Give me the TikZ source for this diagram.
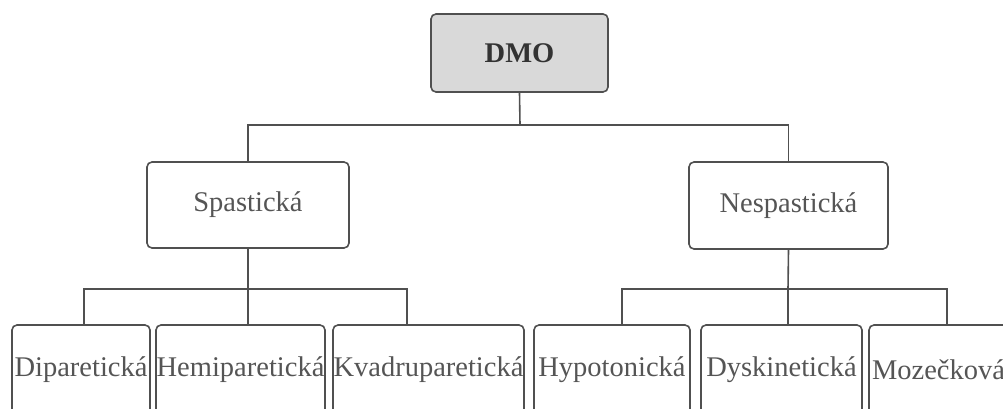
\documentclass[tikz,border=0pt]{standalone}
\usepackage{fontspec}
\setmainfont{Liberation Serif}
\definecolor{lc}{HTML}{505050}
\definecolor{tc}{HTML}{555555}
\definecolor{gfill}{HTML}{D9D9D9}
\begin{document}
\begin{tikzpicture}[x=1pt,y=-1pt,
  box/.style={draw=lc,line width=1.6pt,rounded corners=5pt,fill=white,inner sep=0pt,
    font=\fontsize{28.5}{31}\selectfont,text=tc},
  conn/.style={draw=lc,line width=1.6pt}]
\useasboundingbox (0,0) rectangle (1003,409);
\clip (0,0) rectangle (1003,409);
\fill[white] (0,0) rectangle (1003,409);
\node[box,fill=gfill,minimum width=177pt,minimum height=78pt,font=\fontsize{28.5}{31}\selectfont\bfseries,text=black!80] (dmo) at (519.5,53) {DMO};
\node[box,minimum width=202pt,minimum height=86pt] (sp) at (248,205) {Spastická};
\node[box,minimum width=199pt,minimum height=87pt] (nsp) at (788.5,205.5) {Nespastická};
\node[box,minimum width=138pt,minimum height=90pt] (dip) at (81,370) {Diparetická};
\node[box,minimum width=169pt,minimum height=90pt] (hem) at (240.5,370) {Hemiparetická};
\node[box,minimum width=191pt,minimum height=90pt] (kva) at (428.5,370) {Kvadruparetická};
\node[box,minimum width=156pt,minimum height=90pt] (hyp) at (612,370) {Hypotonická};
\node[box,minimum width=161pt,minimum height=90pt] (dys) at (781.5,370) {Dyskinetická};
\node[box,minimum width=139pt,minimum height=90pt] (moz) at (938.5,370) {Mozečková};
\coordinate (j0) at (520,125);
\coordinate (s1) at (248,289);
\coordinate (n1) at (788,289);
\draw[conn] (dmo.south) -- (j0);
\draw[conn] (sp.north) |- (j0) -| (nsp.north);
\draw[conn] (sp.south) -- (s1);
\draw[conn] (dip.north -| 84,0) |- (s1) -| (kva.north -| 407,0);
\draw[conn] (s1) -- (hem.north -| s1);
\draw[conn] (nsp.south) -- (n1);
\draw[conn] (hyp.north -| 622,0) |- (n1) -| (moz.north -| 947,0);
\draw[conn] (n1) -- (dys.north -| n1);
\end{tikzpicture}
\end{document}
